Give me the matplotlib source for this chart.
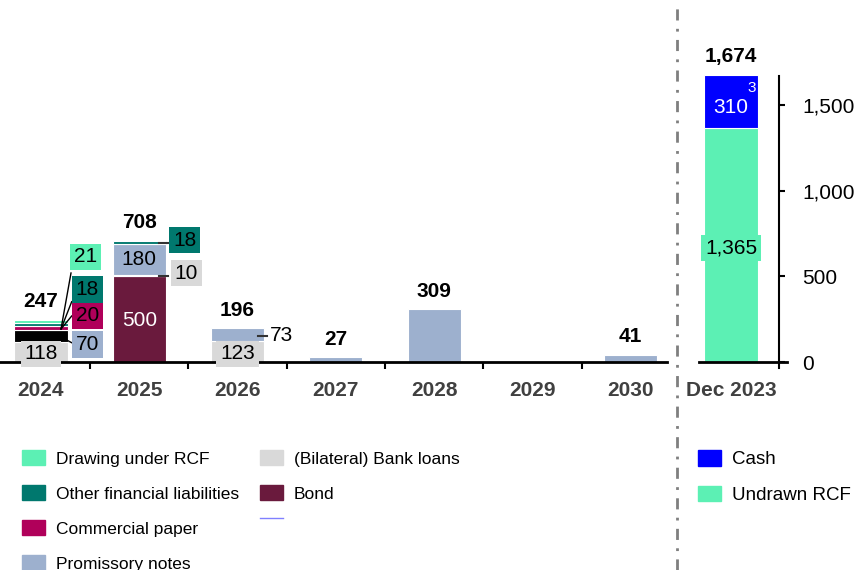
import matplotlib
matplotlib.use('Agg')
import matplotlib.pyplot as plt
from matplotlib.patches import Patch
from matplotlib.lines import Line2D
from matplotlib.legend_handler import HandlerBase
import numpy as np

plt.rcParams['font.family'] = ['Liberation Sans', 'DejaVu Sans']
plt.rcParams['lines.scale_dashes'] = False

# ---------------- data ----------------
years = ['2024', '2025', '2026', '2027', '2028', '2029', '2030']
bond = [0, 500, 0, 0, 0, 0, 0]
bank_loans = [118, 10, 123, 0, 0, 0, 0]
promissory_notes = [70, 180, 73, 27, 309, 0, 41]
commercial_paper = [20, 0, 0, 0, 0, 0, 0]
other_liabilities = [18, 18, 0, 0, 0, 0, 0]
rcf_drawing = [21, 0, 0, 0, 0, 0, 0]
totals = ['247', '708', '196', '27', '309', '', '41']

liq_label = ['Dec 2023']
undrawn_rcf = [1365]
cash = [310]
liq_total = ['1,674']

# ---------------- style ----------------
C_RCF = '#5CF0B4'
C_OTHER = '#00786E'
C_CP = '#B0005A'
C_PN = '#9DB0CE'
C_BANK = '#D9D9D9'
C_BOND = '#6A1A3D'
C_CASH = '#0000FF'
PN_COLORS = ['#000000'] + [C_PN] * 6

W, H = 857, 570
PX = 257 / 1500.0          # pixels per unit
Y0, YTOP = 362, 20
SPAN = 98.3                # px per category
FS = 15

fig = plt.figure(figsize=(W / 100, H / 100), dpi=100)
ymax = (Y0 - YTOP) / PX
axL = fig.add_axes([0, 1 - Y0 / H, 667 / W, (Y0 - YTOP) / H])
axR = fig.add_axes([699 / W, 1 - Y0 / H, 88 / W, (Y0 - YTOP) / H])

x = np.arange(len(years))
bw = 0.54
series = [
    (bond, C_BOND),
    (bank_loans, C_BANK),
    (promissory_notes, PN_COLORS),
    (commercial_paper, C_CP),
    (other_liabilities, C_OTHER),
    (rcf_drawing, C_RCF),
]
bottom = np.zeros(len(years))
for vals, col in series:
    v = np.array(vals, dtype=float)
    idx = np.nonzero(v)[0]
    cols = [col[i] for i in idx] if isinstance(col, list) else col
    axL.bar(x[idx], v[idx], bw, bottom=bottom[idx], color=cols,
            edgecolor='white', linewidth=0.8, zorder=2)
    bottom = bottom + v

axL.set_xlim(-41 / SPAN, (667 - 41) / SPAN)
axL.set_ylim(0, ymax)
for s in ['left', 'top', 'right']:
    axL.spines[s].set_visible(False)
axL.spines['bottom'].set_linewidth(2)
axL.set_yticks([])
axL.set_xticks(x)
axL.set_xticklabels(years, fontsize=FS, fontweight='bold', color='#404040')
axL.tick_params(axis='x', which='major', length=0, pad=14)
axL.set_xticks(np.arange(0.5, 6.0, 1.0), minor=True)
axL.tick_params(axis='x', which='minor', length=5, width=1.5, direction='out')

# totals
for xi, t, top in zip(x, totals, bottom):
    if t:
        axL.annotate(t, (xi, top), xytext=(0, 13), textcoords='offset points',
                     ha='center', va='center', fontsize=FS, fontweight='bold', zorder=5)


def boxed(ax, xx, yy, s, fc, color='black', ha='center'):
    ax.text(xx, yy, s, ha=ha, va='center', fontsize=FS, color=color, zorder=6,
            bbox=dict(boxstyle='square,pad=0.18', fc=fc, ec='none'))


def px(xp):
    return (xp - 41) / SPAN


def py(yp):
    return (Y0 - yp) / PX


# 2024 labels
boxed(axL, 0, 47, str(bank_loans[0]), C_BANK)
boxed(axL, 0.47, 103, str(promissory_notes[0]), C_PN)
boxed(axL, 0.47, 272, str(commercial_paper[0]), C_CP)
boxed(axL, 0.47, 423, str(other_liabilities[0]), C_OTHER)
boxed(axL, 0.45, 614, str(rcf_drawing[0]), C_RCF)
for (ex, ey) in [(71, 273), (71.7, 301.7), (71.7, 316)]:
    axL.plot([px(61), px(ex)], [py(329), py(ey)], color='black', lw=1, zorder=4)
axL.plot([px(66.7), px(71.7)], [py(340), py(342.7)], color='black', lw=1, zorder=4)

# 2025 labels
axL.text(1, 245, str(bond[1]), ha='center', va='center', fontsize=FS, color='white', zorder=6)
boxed(axL, 1, 600, str(promissory_notes[1]), C_PN)
boxed(axL, 1.46, 712, str(other_liabilities[1]), C_OTHER)
boxed(axL, 1.48, 519, str(bank_loans[1]), C_BANK)
axL.plot([px(159), px(168)], [py(242.7)] * 2, color='#333333', lw=1.5, zorder=4)
axL.plot([px(159), px(168)], [py(276)] * 2, color='#333333', lw=1.5, zorder=4)

# 2026 labels
boxed(axL, 2, 47, str(bank_loans[2]), C_BANK)
axL.text(px(270), 152, str(promissory_notes[2]), ha='left', va='center', fontsize=FS, zorder=6)
axL.plot([px(258), px(267)], [py(336)] * 2, color='#333333', lw=1.5, zorder=4)

# ---------------- right panel ----------------
axR.bar([0], undrawn_rcf, bw, color=C_RCF, edgecolor='white', linewidth=0.8, zorder=2)
axR.bar([0], cash, bw, bottom=undrawn_rcf, color=C_CASH, edgecolor='white', linewidth=0.8, zorder=2)
axR.set_xlim((699 - 731) / SPAN, (787 - 731) / SPAN)
axR.set_ylim(0, ymax)
boxed(axR, 0, 665, f'{undrawn_rcf[0]:,}', C_RCF)
axR.text(0, 1488, str(cash[0]), ha='center', va='center', fontsize=FS, color='white', zorder=6)
axR.text((752 - 731) / SPAN, 1600, '3', ha='center', va='center', fontsize=11, color='white', zorder=6)
axR.annotate(liq_total[0], (0, undrawn_rcf[0] + cash[0]), xytext=(0, 13), textcoords='offset points',
             ha='center', va='center', fontsize=FS, fontweight='bold')
for s in ['left', 'top']:
    axR.spines[s].set_visible(False)
axR.spines['bottom'].set_linewidth(2)
axR.spines['right'].set_position(('axes', 80 / 88))
axR.spines['right'].set_linewidth(1.5)
axR.spines['right'].set_bounds(-35, 1669)
axR.yaxis.tick_right()
axR.set_yticks([0, 500, 1000, 1500])
axR.set_yticklabels(['0', '500', '1,000', '1,500'], fontsize=FS)
axR.tick_params(axis='y', length=4.5, width=1.5, pad=12)
axR.set_xticks([0])
axR.set_xticklabels(liq_label, fontsize=FS, fontweight='bold', color='#404040')
axR.tick_params(axis='x', length=0, pad=14)

# separator
fig.add_artist(Line2D([677 / W, 677 / W], [0, 1 - 8 / H], color='#7F7F7F', lw=2,
                      linestyle=(0, (8, 6, 2, 6))))


# ---------------- legends ----------------
class TopLineHandler(HandlerBase):
    def create_artists(self, legend, orig_handle, xdescent, ydescent, width, height,
                       fontsize, trans):
        y = height / 2 - ydescent + 7.2
        ln = Line2D([-xdescent, -xdescent + width], [y, y], color=orig_handle.get_color(),
                    lw=orig_handle.get_linewidth(), transform=trans)
        return [ln]


blank_line = Line2D([], [], color='#8080FF', lw=1)
h1 = [Patch(color=C_RCF), Patch(color=C_OTHER), Patch(color=C_CP), Patch(color=C_PN),
      Patch(color=C_BANK), Patch(color=C_BOND), blank_line]
l1 = ['Drawing under RCF', 'Other financial liabilities', 'Commercial paper', 'Promissory notes',
      '(Bilateral) Bank loans', 'Bond', '']
fig.legend(h1, l1, ncol=2, loc='upper left', bbox_to_anchor=(22 / W, 1 - 450 / H),
           frameon=False, fontsize=12.5, handlelength=1.33, handleheight=0.98,
           handletextpad=0.64, labelspacing=1.06, columnspacing=1.17, borderpad=0, borderaxespad=0,
           handler_map={blank_line: TopLineHandler()})
h2 = [Patch(color=C_CASH), Patch(color=C_RCF)]
l2 = ['Cash', 'Undrawn RCF']
fig.legend(h2, l2, ncol=1, loc='upper left', bbox_to_anchor=(698 / W, 1 - 450 / H),
           frameon=False, fontsize=13.5, handlelength=1.23, handleheight=0.9,
           handletextpad=0.59, labelspacing=0.92, borderpad=0, borderaxespad=0)

fig.savefig('out.png', dpi=100)
